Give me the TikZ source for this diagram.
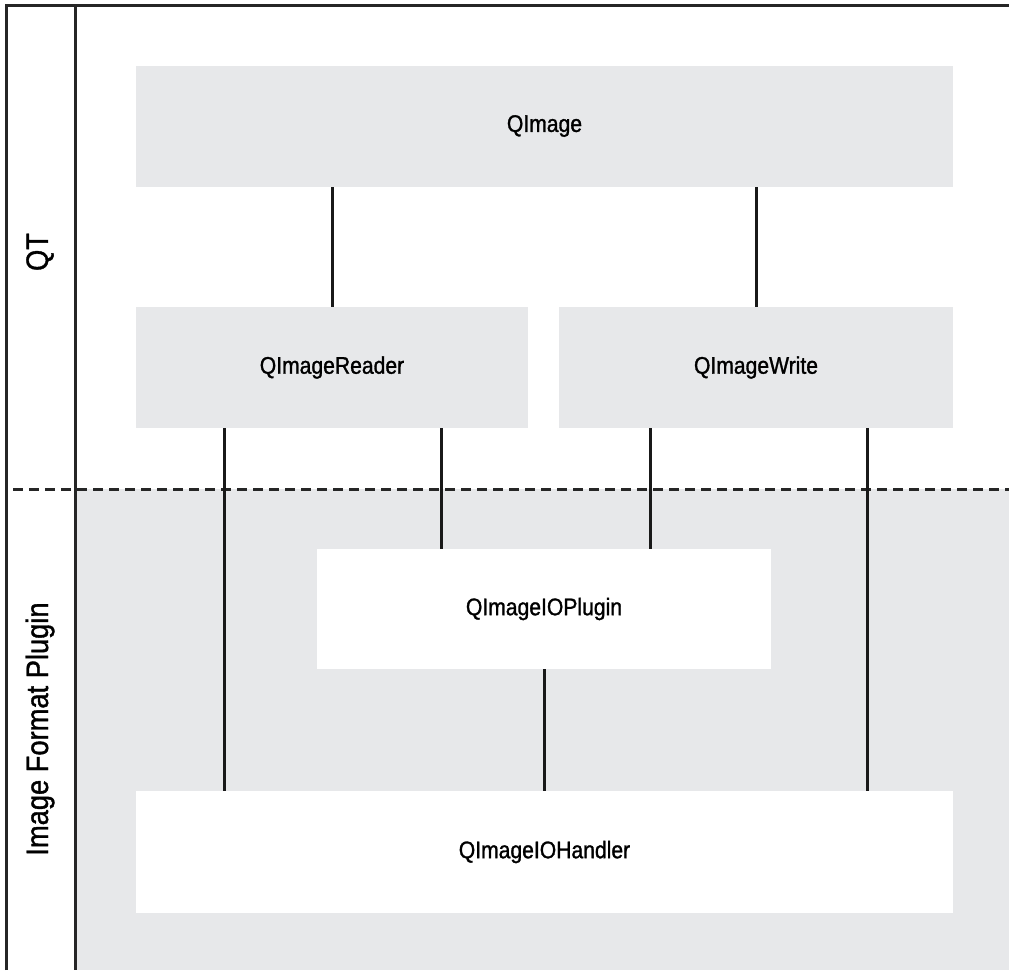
\documentclass[tikz,border=0pt]{standalone}
\usepackage{fontspec}
\setmainfont{Liberation Sans}[FakeStretch=0.88, FakeBold=1.2]
\usetikzlibrary{positioning}

\definecolor{panelgray}{HTML}{E7E8EA}

\begin{document}
\begin{tikzpicture}[
    x=1pt, y=-1pt,
    frame/.style={
        line width=3pt,
        draw=black!85
    },
    component/.style={
        rectangle,
        inner sep=0pt,
        minimum height=121pt,
        align=center,
        font=\fontsize{24}{28}\selectfont
    },
    qtpart/.style={
        component,
        fill=panelgray
    },
    pluginpart/.style={
        component,
        fill=white
    },
    layerlabel/.style={
        rotate=90,
        font=\fontsize{31}{36}\selectfont
    },
    link/.style={
        line width=3pt,
        draw=black!90
    }
]

\useasboundingbox (0,0) rectangle (1009,970);

% Background and frame
\fill[panelgray] (76,489) rectangle (1009,970);
\draw[frame] (6,970) -- (6,5) -- (1009,5);
\draw[frame] (75,5) -- (75,970);
\draw[frame, dash pattern=on 10pt off 6pt] (13,489) -- (1009,489);

% Layer labels
\node[layerlabel] (qtlabel) at (40,252) {QT};
\node[layerlabel] (pluginlabel) at (40,729) {Image Format Plugin};

% Nodes
\node[qtpart, minimum width=817pt] (qimage) at (544.5,126) {\raisebox{-3pt}{QImage}};
\node[qtpart, minimum width=392pt] (reader) at (332,367.5) {\raisebox{-3pt}{QImageReader}};
\node[qtpart, minimum width=394pt] (writer) at (756,367.5) {\raisebox{-3pt}{QImageWrite}};
\node[pluginpart, minimum width=454pt, minimum height=120pt] (ioplugin) at (544,609) {\raisebox{-3pt}{QImageIOPlugin}};
\node[pluginpart, minimum width=817pt, minimum height=122pt] (iohandler) at (544.5,852) {\raisebox{-3pt}{QImageIOHandler}};

% Connections
\draw[link] (reader.north) -- (reader.north |- qimage.south);
\draw[link] (writer.north) -- (writer.north |- qimage.south);
\draw[link] ([xshift=89pt]reader.south west) -- ([xshift=89pt]reader.south west |- iohandler.north);
\draw[link] ([xshift=-87pt]reader.south east) -- ([xshift=-87pt]reader.south east |- ioplugin.north);
\draw[link] ([xshift=92pt]writer.south west) -- ([xshift=92pt]writer.south west |- ioplugin.north);
\draw[link] ([xshift=-86pt]writer.south east) -- ([xshift=-86pt]writer.south east |- iohandler.north);
\draw[link] (ioplugin.south) -- (ioplugin.south |- iohandler.north);

\end{tikzpicture}
\end{document}
